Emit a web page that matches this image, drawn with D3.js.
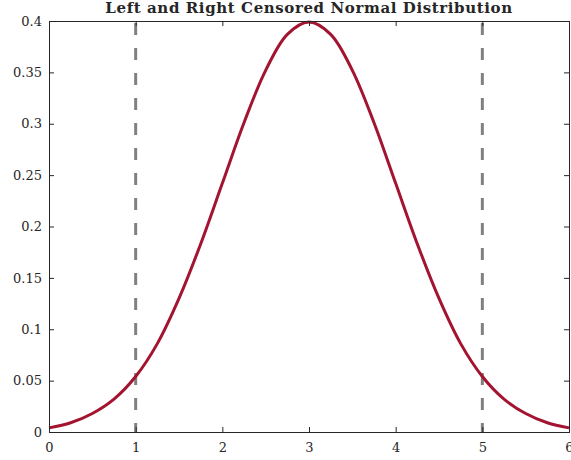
<!DOCTYPE html>
<html>
<head>
    <meta charset="utf-8">
    <title>censored normal</title>
    <style>
    body {
        margin: 0;
        background-color: #fff;
    }
    svg {
        display: block;
    }
    text {
        font-family: "DejaVu Serif", "Liberation Serif", serif;
        fill: #262626;
    }
    </style>
    <script src="https://d3js.org/d3.v7.min.js"></script>
</head>
<body>
<script>
    // values
    const xValues = [0, 0.25, 0.5, 0.75, 1, 1.25, 1.5, 1.75, 2, 2.25, 2.5, 2.75, 3,
        3.25, 3.5, 3.75, 4, 4.25, 4.5, 4.75, 5, 5.25, 5.5, 5.75, 6]
    const density = [0.004, 0.009, 0.018, 0.032, 0.054, 0.086, 0.130, 0.183, 0.242, 0.301, 0.352, 0.387, 0.399,
        0.387, 0.352, 0.301, 0.242, 0.183, 0.130, 0.086, 0.054, 0.032, 0.018, 0.009, 0.004]
    const censorPoints = [1, 5]
    const xTicks = [0, 1, 2, 3, 4, 5, 6]
    const yTicks = [0, 0.05, 0.1, 0.15, 0.2, 0.25, 0.3, 0.35, 0.4]
    const yTickLabels = ['0', '0.05', '0.1', '0.15', '0.2', '0.25', '0.3', '0.35', '0.4']
    const title = 'Left and Right Censored Normal Distribution'

    const W = 571, H = 460
    const margin = {top: 21, right: 2, bottom: 28, left: 49}
    const width = W - margin.left - margin.right
    const height = H - margin.top - margin.bottom

    const x = d3.scaleLinear().domain([0, 6]).range([0, width])
    const y = d3.scaleLinear().domain([0, 0.4]).range([height, 0])

    const svg = d3.select('body').append('svg')
        .attr('width', W)
        .attr('height', H)

    const g = svg.append('g')
        .attr('transform', `translate(${margin.left},${margin.top})`)

    // censoring lines
    g.selectAll('.censor')
        .data(censorPoints)
        .join('line')
        .attr('class', 'censor')
        .attr('x1', d => x(d)).attr('x2', d => x(d))
        .attr('y1', y(0)).attr('y2', y(0.4))
        .attr('stroke', '#808080')
        .attr('stroke-width', 3)
        .attr('stroke-dasharray', '12,13')
        .attr('stroke-dashoffset', 3)

    // density curve
    const pts = xValues.map((v, i) => [v, density[i]])
    const line = d3.line()
        .x(d => x(d[0]))
        .y(d => y(d[1]))
        .curve(d3.curveCatmullRom)

    g.append('path')
        .datum(pts)
        .attr('d', line)
        .attr('fill', 'none')
        .attr('stroke', '#A2142F')
        .attr('stroke-width', 3)

    // axes (ticks point inward, mirrored on top/right)
    const axisColor = '#262626'
    const tickLen = 5

    const xAxis = g.append('g')
        .attr('transform', `translate(0,${height})`)
        .call(d3.axisBottom(x).tickValues(xTicks).tickSize(-tickLen).tickPadding(11).tickFormat(d3.format('d')))
    const yAxis = g.append('g')
        .call(d3.axisLeft(y).tickValues(yTicks).tickSize(-tickLen).tickPadding(7)
            .tickFormat((d, i) => yTickLabels[i]))
    const xTop = g.append('g')
        .call(d3.axisTop(x).tickValues(xTicks).tickSize(-tickLen).tickFormat(''))
    const yRight = g.append('g')
        .attr('transform', `translate(${width},0)`)
        .call(d3.axisRight(y).tickValues(yTicks).tickSize(-tickLen).tickFormat(''))

    ;[xAxis, yAxis, xTop, yRight].forEach(a => {
        a.select('.domain').attr('stroke', axisColor).attr('stroke-width', 1)
        a.selectAll('.tick line').attr('stroke', axisColor).attr('stroke-width', 1)
        a.selectAll('.tick text')
            .attr('fill', axisColor)
            .style('font-size', '13px')
            .style('font-family', '"DejaVu Serif", serif')
    })

    // title
    svg.append('text')
        .attr('x', margin.left + width / 2)
        .attr('y', 13)
        .attr('text-anchor', 'middle')
        .style('font-weight', 'bold')
        .style('font-size', '15px')
        .style('letter-spacing', '0.6px')
        .attr('fill', '#000')
        .text(title)
</script>
</body>
</html>
